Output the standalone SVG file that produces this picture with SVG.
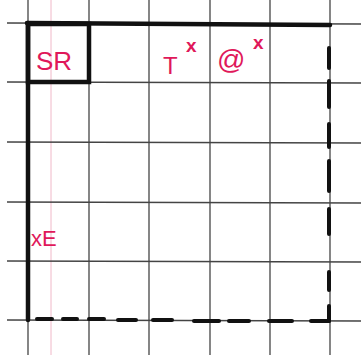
<svg xmlns="http://www.w3.org/2000/svg" width="361" height="355" viewBox="0 0 361 355">
<style>
.grid{stroke:#444;stroke-width:1.3;fill:none}
.margin{stroke:#f0b8c8;stroke-width:1;fill:none}
.thick{stroke:#111;stroke-width:4.5;fill:none;stroke-linecap:round}
.dash{stroke:#111;stroke-width:4;fill:none;stroke-linecap:round}
.lbl{fill:#e0185a;font-family:"Liberation Sans",Arial,sans-serif}
</style>
<rect width="361" height="355" fill="#fff"/>
<g id="grid">
<line class="margin" x1="51" y1="0" x2="51" y2="355"/>
<line class="grid" x1="28" y1="0" x2="28" y2="355"/>
<line class="grid" x1="89" y1="0" x2="89" y2="355"/>
<line class="grid" x1="149" y1="0" x2="149" y2="355"/>
<line class="grid" x1="210" y1="0" x2="210" y2="355"/>
<line class="grid" x1="270" y1="0" x2="270" y2="355"/>
<line class="grid" x1="330" y1="0" x2="330" y2="355"/>
<line class="grid" x1="7" y1="23" x2="361" y2="24"/>
<line class="grid" x1="7" y1="82" x2="361" y2="83"/>
<line class="grid" x1="7" y1="142" x2="361" y2="143"/>
<line class="grid" x1="7" y1="202" x2="361" y2="203"/>
<line class="grid" x1="7" y1="261" x2="361" y2="262"/>
<line class="grid" x1="7" y1="320" x2="361" y2="321"/>
</g>
<g id="connectors">
<line class="thick" x1="27" y1="23" x2="330" y2="25"/>
<line class="thick" x1="28" y1="23" x2="28" y2="320"/>
<line class="dash" x1="329" y1="48" x2="329" y2="68"/>
<line class="dash" x1="329" y1="81" x2="329" y2="107"/>
<line class="dash" x1="329" y1="124" x2="329" y2="147"/>
<line class="dash" x1="329" y1="161" x2="329" y2="191"/>
<line class="dash" x1="329" y1="209" x2="329" y2="234"/>
<line class="dash" x1="329" y1="272" x2="329" y2="290"/>
<line class="dash" x1="329" y1="306" x2="329" y2="321"/>
<line class="dash" x1="37" y1="319" x2="52" y2="319"/>
<line class="dash" x1="63" y1="319" x2="77" y2="319"/>
<line class="dash" x1="89" y1="319" x2="104" y2="319"/>
<line class="dash" x1="118" y1="320" x2="136" y2="320"/>
<line class="dash" x1="153" y1="320" x2="172" y2="320"/>
<line class="dash" x1="194" y1="321" x2="219" y2="321"/>
<line class="dash" x1="229" y1="321" x2="249" y2="321"/>
<line class="dash" x1="269" y1="321" x2="292" y2="321"/>
<line class="dash" x1="311" y1="321" x2="329" y2="321"/>
</g>
<g id="node-sr">
<rect class="thick" x="28" y="24" width="61" height="58" stroke-linecap="square"/>
<text class="lbl" x="36" y="70" font-size="26">SR</text>
</g>
<g id="node-t">
<text class="lbl" x="163" y="74" font-size="24">T</text>
<text class="lbl" x="186" y="52" font-size="19" font-weight="bold">x</text>
</g>
<g id="node-at">
<text class="lbl" x="217" y="69" font-size="28">@</text>
<text class="lbl" x="253" y="49" font-size="19" font-weight="bold">x</text>
</g>
<g id="node-xe">
<text class="lbl" x="31" y="246" font-size="22">xE</text>
</g>
</svg>
